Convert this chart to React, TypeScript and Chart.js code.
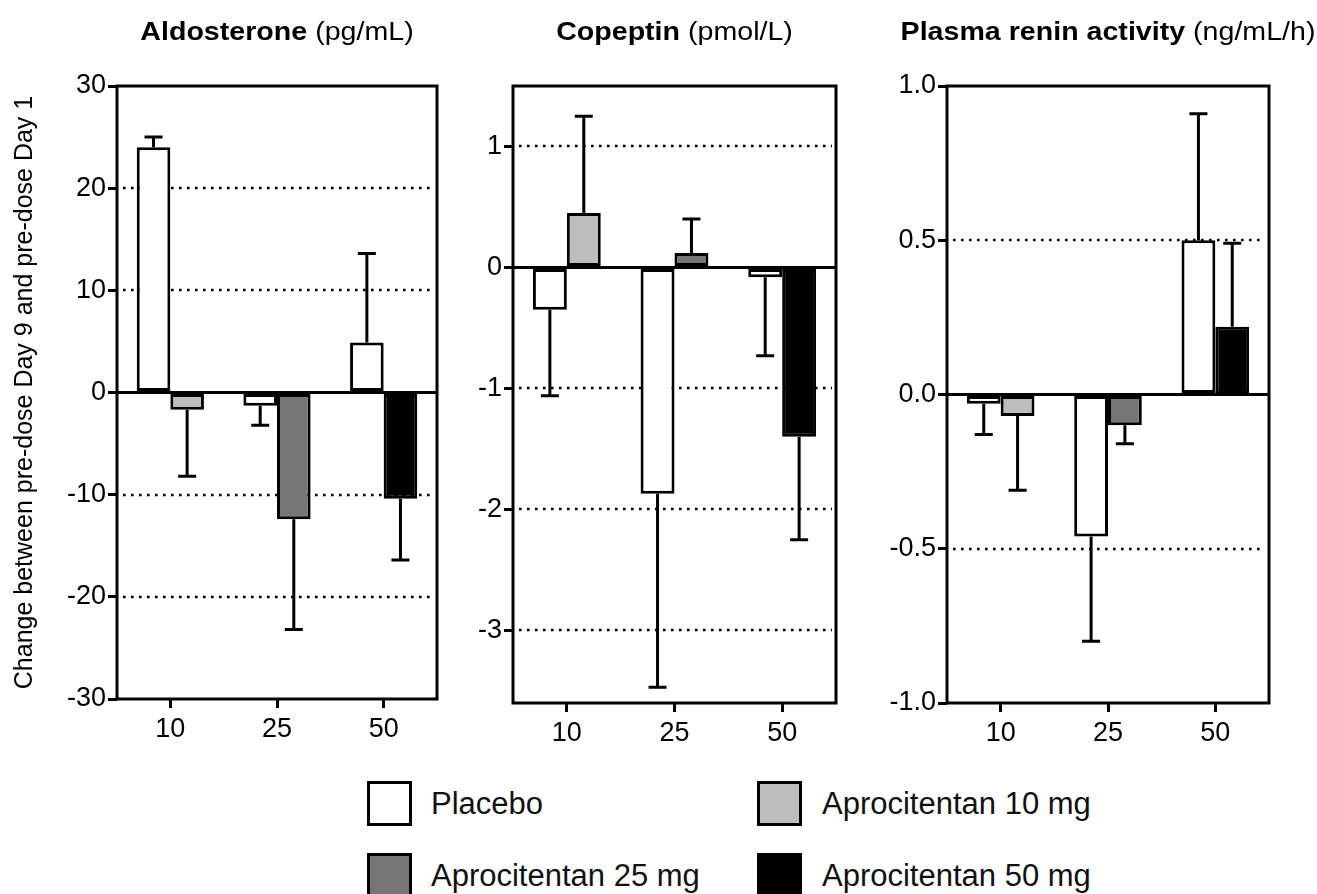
import React, { useEffect, useRef } from 'react';
import { Chart, registerables } from 'chart.js';

Chart.register(...registerables);

// ---------- data ----------
const categories = ['10', '25', '50'];
const seriesLabels = ['Placebo', 'Aprocitentan 10 mg', 'Aprocitentan 25 mg', 'Aprocitentan 50 mg'];
const seriesColors = ['#ffffff', '#bdbdbd', '#767676', '#000000'];

const yAxisTitle = 'Change between pre-dose Day 9 and pre-dose Day 1';

// Aldosterone (pg/mL)
const aldoPlacebo = [24.0, -1.3, 4.9];
const aldoPlaceboSD = [1.0, 1.9, 8.7];
const aldoAprocitentan = [-1.7, -12.4, -10.4];
const aldoAprocitentanSD = [6.5, 10.8, 6.0];
const aldoTicks = [30, 20, 10, 0, -10, -20, -30];
const aldoTickLabels = ['30', '20', '10', '0', '-10', '-20', '-30'];

// Copeptin (pmol/L)
const copPlacebo = [-0.35, -1.87, -0.08];
const copPlaceboSD = [0.71, 1.6, 0.65];
const copAprocitentan = [0.45, 0.12, -1.4];
const copAprocitentanSD = [0.8, 0.28, 0.85];
const copTicks = [1, 0, -1, -2, -3];
const copTickLabels = ['1', '0', '-1', '-2', '-3'];

// Plasma renin activity (ng/mL/h)
const praPlacebo = [-0.03, -0.46, 0.5];
const praPlaceboSD = [0.1, 0.34, 0.41];
const praAprocitentan = [-0.07, -0.1, 0.22];
const praAprocitentanSD = [0.24, 0.06, 0.27];
const praTicks = [1.0, 0.5, 0.0, -0.5, -1.0];
const praTickLabels = ['1.0', '0.5', '0.0', '-0.5', '-1.0'];

const FONT = "'Liberation Sans', Arial, Helvetica, sans-serif";
const TICK_SIZE = 27;

type PanelCfg = {
  bold: string;
  unit: string;
  placebo: number[];
  placeboSD: number[];
  apro: number[];
  aproSD: number[];
  ticks: number[];
  tickLabels: string[];
  min: number;
  max: number;
  left: number;
  width: number;
  yWidth: number;
  xHeight: number;
  padRight: number;
  showYTitle: boolean;
};

const panels: PanelCfg[] = [
  {
    bold: 'Aldosterone', unit: '(pg/mL)',
    placebo: aldoPlacebo, placeboSD: aldoPlaceboSD, apro: aldoAprocitentan, aproSD: aldoAprocitentanSD,
    ticks: aldoTicks, tickLabels: aldoTickLabels, min: -30, max: 30,
    left: 0, width: 450, yWidth: 117, xHeight: 61, padRight: 13, showYTitle: true,
  },
  {
    bold: 'Copeptin', unit: '(pmol/L)',
    placebo: copPlacebo, placeboSD: copPlaceboSD, apro: copAprocitentan, aproSD: copAprocitentanSD,
    ticks: copTicks, tickLabels: copTickLabels, min: -3.6, max: 1.5,
    left: 450, width: 420, yWidth: 63, xHeight: 57, padRight: 34, showYTitle: false,
  },
  {
    bold: 'Plasma renin activity', unit: '(ng/mL/h)',
    placebo: praPlacebo, placeboSD: praPlaceboSD, apro: praAprocitentan, aproSD: praAprocitentanSD,
    ticks: praTicks, tickLabels: praTickLabels, min: -1.0, max: 1.0,
    left: 870, width: 447, yWidth: 77, xHeight: 57, padRight: 48, showYTitle: false,
  },
];

const CANVAS_H = 760;

const onlyAt = (arr: number[], idx: number) => arr.map((v, i) => (i === idx ? v : null));

const decorPlugin = {
  id: 'panelDecor',
  beforeDatasetsDraw(chart: any, _args: any, opts: any) {
    const { ctx, chartArea } = chart;
    const y = chart.scales.y;
    ctx.save();
    ctx.strokeStyle = '#000';
    ctx.lineWidth = 2.6;
    ctx.setLineDash([2.6, 5.4]);
    (opts.ticks as number[]).forEach((v) => {
      if (v === 0 || v >= y.max || v <= y.min) return;
      const py = Math.round(y.getPixelForValue(v));
      ctx.beginPath();
      ctx.moveTo(chartArea.left + 6, py);
      ctx.lineTo(chartArea.right - 4, py);
      ctx.stroke();
    });
    ctx.restore();
  },
  afterDatasetsDraw(chart: any) {
    const { ctx, chartArea } = chart;
    const y = chart.scales.y;
    ctx.save();
    ctx.strokeStyle = '#000';
    ctx.lineWidth = 3;
    // error bars
    chart.data.datasets.forEach((ds: any, di: number) => {
      const meta = chart.getDatasetMeta(di);
      ds.data.forEach((v: number | null, i: number) => {
        const e = ds.errors[i];
        if (v == null || e == null) return;
        const bar = meta.data[i];
        if (!bar) return;
        const x = bar.x;
        const dir = v >= 0 ? 1 : -1;
        const y0 = y.getPixelForValue(v);
        const y1 = y.getPixelForValue(v + dir * e);
        ctx.beginPath();
        ctx.moveTo(x, y0);
        ctx.lineTo(x, y1);
        ctx.moveTo(x - 9, y1);
        ctx.lineTo(x + 9, y1);
        ctx.stroke();
      });
    });
    // zero line
    const z = y.getPixelForValue(0);
    ctx.beginPath();
    ctx.moveTo(chartArea.left, z);
    ctx.lineTo(chartArea.right, z);
    ctx.stroke();
    // frame
    ctx.lineWidth = 3;
    ctx.strokeRect(chartArea.left, chartArea.top, chartArea.right - chartArea.left, chartArea.bottom - chartArea.top);
    ctx.restore();
  },
  afterDraw(chart: any, _args: any, opts: any) {
    const { ctx, chartArea } = chart;
    ctx.save();
    ctx.fillStyle = '#000';
    ctx.textBaseline = 'alphabetic';
    ctx.textAlign = 'left';
    const size = 26;
    const sx = 1.1;
    ctx.font = `bold ${size}px ${FONT}`;
    const wb = ctx.measureText(opts.bold).width;
    ctx.font = `${size}px ${FONT}`;
    const wn = ctx.measureText(' ' + opts.unit).width;
    const cx = (chartArea.left + chartArea.right) / 2;
    ctx.translate(cx, 40);
    ctx.scale(sx, 1);
    const x0 = -(wb + wn) / 2;
    ctx.font = `bold ${size}px ${FONT}`;
    ctx.fillText(opts.bold, x0, 0);
    ctx.font = `${size}px ${FONT}`;
    ctx.fillText(' ' + opts.unit, x0 + wb, 0);
    ctx.restore();
  },
};

function buildConfig(p: PanelCfg): any {
  const datasets = [
    { label: seriesLabels[0], data: p.placebo, errors: p.placeboSD, backgroundColor: seriesColors[0] },
    { label: seriesLabels[1], data: onlyAt(p.apro, 0), errors: onlyAt(p.aproSD, 0), backgroundColor: seriesColors[1] },
    { label: seriesLabels[2], data: onlyAt(p.apro, 1), errors: onlyAt(p.aproSD, 1), backgroundColor: seriesColors[2] },
    { label: seriesLabels[3], data: onlyAt(p.apro, 2), errors: onlyAt(p.aproSD, 2), backgroundColor: seriesColors[3] },
  ].map((d) => ({
    ...d,
    borderColor: '#000',
    borderWidth: 3,
    borderSkipped: false,
    skipNull: true,
    categoryPercentage: 0.63,
    barPercentage: 1.0,
  }));

  return {
    type: 'bar',
    data: { labels: categories, datasets },
    plugins: [decorPlugin],
    options: {
      responsive: false,
      animation: false,
      layout: { padding: { top: 86, right: p.padRight, left: 0, bottom: 0 } },
      plugins: {
        legend: { display: false },
        tooltip: { enabled: false },
        title: { display: false },
        panelDecor: { bold: p.bold, unit: p.unit, ticks: p.ticks },
      },
      scales: {
        x: {
          type: 'category',
          offset: true,
          grid: {
            offset: false,
            drawOnChartArea: false,
            drawTicks: true,
            tickLength: 9,
            color: '#000',
            lineWidth: 3,
          },
          border: { display: false },
          ticks: { color: '#000', font: { family: FONT, size: TICK_SIZE }, padding: 5, maxRotation: 0 },
          afterFit: (s: any) => { s.height = p.xHeight; },
        },
        y: {
          type: 'linear',
          min: p.min,
          max: p.max,
          grid: {
            drawOnChartArea: false,
            drawTicks: true,
            tickLength: 9,
            color: '#000',
            lineWidth: 3,
          },
          border: { display: false },
          ticks: {
            color: '#000',
            font: { family: FONT, size: TICK_SIZE },
            padding: 2,
            callback: (v: number) => {
              const i = p.ticks.findIndex((t) => Math.abs(t - v) < 1e-9);
              return i >= 0 ? p.tickLabels[i] : '';
            },
          },
          afterBuildTicks: (s: any) => { s.ticks = p.ticks.map((v) => ({ value: v })); },
          afterFit: (s: any) => { s.width = p.yWidth; },
          title: {
            display: p.showYTitle,
            text: yAxisTitle,
            color: '#000',
            font: { family: FONT, size: 25 },
            padding: { top: 10, bottom: 0 },
          },
        },
      },
    },
  };
}

function Panel({ p }: { p: PanelCfg }) {
  const ref = useRef<HTMLCanvasElement | null>(null);
  useEffect(() => {
    if (!ref.current) return;
    const chart = new Chart(ref.current, buildConfig(p));
    return () => chart.destroy();
  }, []);
  return (
    <canvas
      ref={ref}
      width={p.width}
      height={CANVAS_H}
      style={{ position: 'absolute', left: p.left, top: 0, width: p.width, height: CANVAS_H, display: 'block' }}
    />
  );
}

const legendPos = [
  { boxLeft: 367, textLeft: 431, top: 781 },
  { boxLeft: 757, textLeft: 822, top: 781 },
  { boxLeft: 367, textLeft: 431, top: 853 },
  { boxLeft: 757, textLeft: 822, top: 853 },
];

export default function App() {
  return (
    <div style={{ position: 'absolute', left: 0, top: 0, width: 1317, height: 894, background: '#fff', overflow: 'hidden' }}>
      {panels.map((p, i) => (
        <Panel key={i} p={p} />
      ))}
      {seriesLabels.map((label, i) => (
        <React.Fragment key={label}>
          <div
            style={{
              position: 'absolute',
              left: legendPos[i].boxLeft,
              top: legendPos[i].top,
              width: 45,
              height: 45,
              boxSizing: 'border-box',
              border: '3px solid #000',
              background: seriesColors[i],
            }}
          />
          <div
            style={{
              position: 'absolute',
              left: legendPos[i].textLeft,
              top: legendPos[i].top,
              height: 45,
              lineHeight: '45px',
              fontFamily: FONT,
              fontSize: 31,
              color: '#111',
              whiteSpace: 'nowrap',
            }}
          >
            {label}
          </div>
        </React.Fragment>
      ))}
    </div>
  );
}
